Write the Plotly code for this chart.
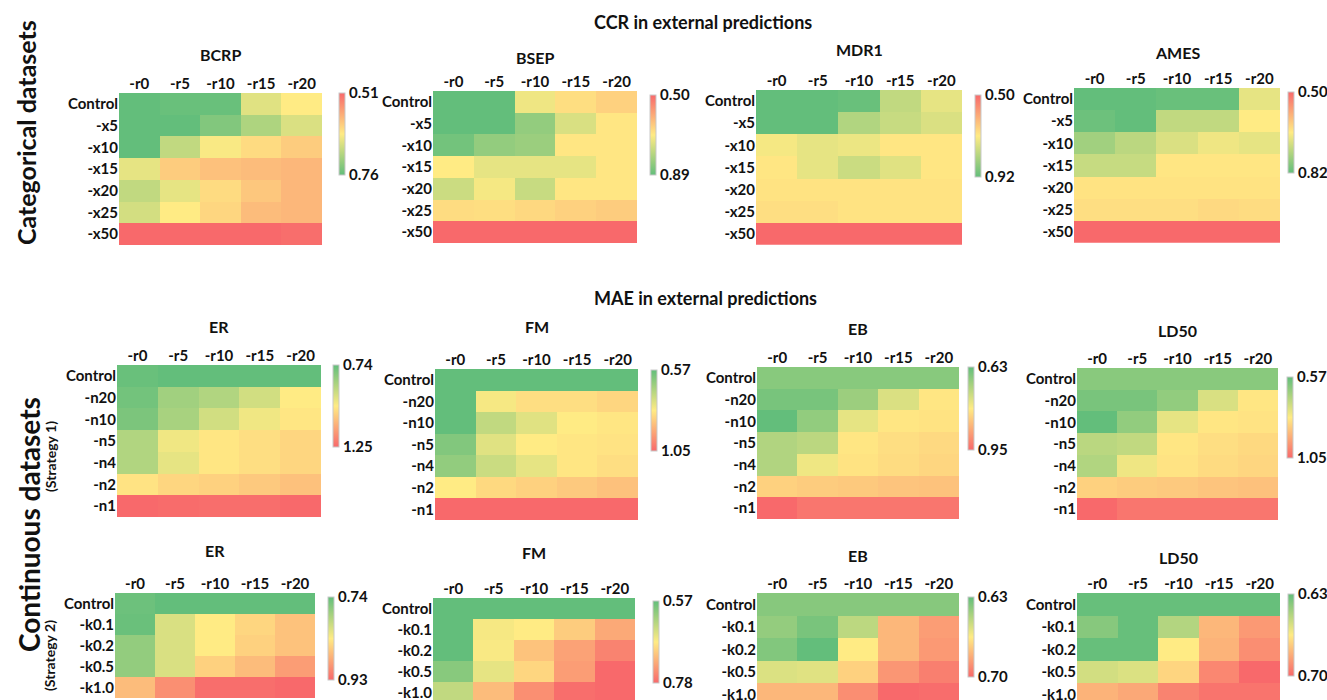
import numpy as np
import plotly.graph_objects as go

W, H = 1327, 700

cols = ["-r0", "-r5", "-r10", "-r15", "-r20"]
rows_cat = ["Control", "-x5", "-x10", "-x15", "-x20", "-x25", "-x50"]
rows_s1 = ["Control", "-n20", "-n10", "-n5", "-n4", "-n2", "-n1"]
rows_s2 = ["Control", "-k0.1", "-k0.2", "-k0.5", "-k1.0"]

# ---- CCR in external predictions (categorical datasets) ----
bcrp = [[0.760, 0.755, 0.755, 0.660, 0.635],
        [0.760, 0.760, 0.735, 0.700, 0.665],
        [0.760, 0.685, 0.640, 0.620, 0.605],
        [0.655, 0.605, 0.595, 0.590, 0.585],
        [0.685, 0.655, 0.620, 0.600, 0.585],
        [0.670, 0.635, 0.615, 0.590, 0.585],
        [0.510, 0.510, 0.510, 0.510, 0.515]]
bsep = [[0.890, 0.890, 0.715, 0.675, 0.656],
        [0.890, 0.890, 0.830, 0.742, 0.687],
        [0.870, 0.830, 0.820, 0.687, 0.687],
        [0.695, 0.726, 0.726, 0.726, 0.687],
        [0.760, 0.707, 0.765, 0.687, 0.687],
        [0.672, 0.675, 0.667, 0.656, 0.648],
        [0.500, 0.500, 0.500, 0.500, 0.500]]
mdr1 = [[0.920, 0.920, 0.912, 0.794, 0.744],
        [0.920, 0.920, 0.815, 0.786, 0.760],
        [0.723, 0.744, 0.735, 0.702, 0.702],
        [0.702, 0.744, 0.781, 0.752, 0.702],
        [0.697, 0.697, 0.697, 0.697, 0.697],
        [0.689, 0.689, 0.697, 0.697, 0.697],
        [0.500, 0.500, 0.500, 0.500, 0.500]]
ames = [[0.820, 0.820, 0.814, 0.814, 0.686],
        [0.810, 0.820, 0.724, 0.724, 0.660],
        [0.756, 0.730, 0.698, 0.676, 0.686],
        [0.718, 0.718, 0.654, 0.654, 0.654],
        [0.650, 0.650, 0.650, 0.650, 0.650],
        [0.644, 0.644, 0.644, 0.638, 0.641],
        [0.500, 0.500, 0.500, 0.500, 0.500]]

# ---- MAE in external predictions, Strategy 1 ----
er1 = [[0.750, 0.740, 0.740, 0.740, 0.740],
       [0.766, 0.842, 0.868, 0.919, 0.995],
       [0.781, 0.852, 0.919, 0.970, 1.005],
       [0.868, 0.970, 1.005, 1.020, 1.036],
       [0.868, 0.954, 1.005, 1.020, 1.036],
       [1.010, 1.036, 1.046, 1.061, 1.077],
       [1.250, 1.245, 1.240, 1.240, 1.250]]
fm1 = [[0.570, 0.570, 0.570, 0.570, 0.570],
       [0.570, 0.796, 0.834, 0.834, 0.848],
       [0.570, 0.714, 0.762, 0.810, 0.820],
       [0.618, 0.762, 0.810, 0.820, 0.824],
       [0.642, 0.728, 0.772, 0.820, 0.834],
       [0.810, 0.844, 0.858, 0.872, 0.887],
       [1.050, 1.050, 1.050, 1.050, 1.050]]
eb1 = [[0.668, 0.668, 0.668, 0.668, 0.668],
       [0.652, 0.652, 0.688, 0.752, 0.796],
       [0.630, 0.678, 0.764, 0.796, 0.800],
       [0.710, 0.720, 0.796, 0.806, 0.812],
       [0.710, 0.774, 0.800, 0.809, 0.816],
       [0.822, 0.828, 0.832, 0.838, 0.841],
       [0.950, 0.934, 0.934, 0.934, 0.934]]
ld1 = [[0.628, 0.628, 0.628, 0.628, 0.628],
       [0.604, 0.604, 0.642, 0.752, 0.820],
       [0.570, 0.642, 0.772, 0.820, 0.824],
       [0.704, 0.714, 0.820, 0.834, 0.844],
       [0.690, 0.786, 0.824, 0.839, 0.848],
       [0.858, 0.868, 0.872, 0.882, 0.887],
       [1.050, 1.026, 1.026, 1.026, 1.026]]

# ---- MAE in external predictions, Strategy 2 ----
er2 = [[0.746, 0.740, 0.740, 0.740, 0.740],
       [0.744, 0.812, 0.835, 0.850, 0.865],
       [0.769, 0.812, 0.835, 0.854, 0.865],
       [0.769, 0.812, 0.854, 0.869, 0.892],
       [0.869, 0.902, 0.926, 0.926, 0.930]]
fm2 = [[0.570, 0.570, 0.570, 0.570, 0.570],
       [0.570, 0.669, 0.675, 0.700, 0.728],
       [0.570, 0.671, 0.707, 0.734, 0.759],
       [0.595, 0.658, 0.692, 0.738, 0.780],
       [0.633, 0.713, 0.749, 0.776, 0.780]]
eb2 = [[0.638, 0.638, 0.638, 0.638, 0.638],
       [0.641, 0.635, 0.650, 0.679, 0.686],
       [0.637, 0.630, 0.665, 0.679, 0.687],
       [0.657, 0.658, 0.672, 0.688, 0.694],
       [0.679, 0.679, 0.690, 0.700, 0.699]]
ld2 = [[0.631, 0.631, 0.631, 0.631, 0.631],
       [0.638, 0.631, 0.648, 0.679, 0.687],
       [0.631, 0.631, 0.665, 0.680, 0.690],
       [0.655, 0.657, 0.671, 0.692, 0.700],
       [0.680, 0.683, 0.693, 0.697, 0.697]]

# colour-bar end labels (best value, worst value)
cbar_lo = [0.51, 0.50, 0.50, 0.50, 0.74, 0.57, 0.63, 0.57, 0.74, 0.57, 0.63, 0.63]
cbar_hi = [0.76, 0.89, 0.92, 0.82, 1.25, 1.05, 0.95, 1.05, 0.93, 0.78, 0.70, 0.70]

GREEN, YELLOW, RED = "#63BE7B", "#FFEB84", "#F8696B"
FONT = "Lato"
TXT = "#111111"

# panel layout (pixels): name, data, rows, metric, heatmap (left, right, top, rowheight), colorbar (x, top, bottom), title y
panels = [
    ("BCRP", bcrp, rows_cat, "CCR", (119, 322, 93, 21.7), (339, 93, 175), 55),
    ("BSEP", bsep, rows_cat, "CCR", (433, 637, 91, 21.7), (650, 95, 175), 58),
    ("MDR1", mdr1, rows_cat, "CCR", (756, 962, 90, 22.1), (975, 95, 177), 50),
    ("AMES", ames, rows_cat, "CCR", (1074, 1280, 88, 22.1), (1288, 92, 173), 52),
    ("ER", er1, rows_s1, "MAE", (117, 321, 365, 21.7), (333, 365, 447), 327),
    ("FM", fm1, rows_s1, "MAE", (435, 638, 369, 21.6), (651, 370, 451), 327),
    ("EB", eb1, rows_s1, "MAE", (757, 959, 367, 21.7), (968, 367, 450), 328),
    ("LD50", ld1, rows_s1, "MAE", (1077, 1278, 368, 21.7), (1287, 377, 458), 330),
    ("ER", er2, rows_s2, "MAE", (115, 315, 593, 21.0), (328, 597, 680), 550),
    ("FM", fm2, rows_s2, "MAE", (433, 635, 598, 21.0), (653, 601, 683), 552),
    ("EB", eb2, rows_s2, "MAE", (757, 959, 593, 22.5), (968, 597, 677), 555),
    ("LD50", ld2, rows_s2, "MAE", (1077, 1280, 593, 22.5), (1288, 594, 676), 557),
]

fig = go.Figure()
annotations = []
layout_axes = {}
tick_font = dict(family=FONT, size=15, color=TXT, weight="bold")

for i, (name, data, rows, metric, hm, cb, ty) in enumerate(panels):
    k = i + 1
    left, right, top, rh = hm
    vals = np.array(data, dtype=float)
    lo, hi = cbar_lo[i], cbar_hi[i]
    if metric == "CCR":
        # high CCR = green; low value shown at top of the colour bar
        cs = [[0, GREEN], [0.5, YELLOW], [1, RED]]
    else:
        cs = [[0, RED], [0.5, YELLOW], [1, GREEN]]
    zmin, zmax = -hi, -lo
    tv, tt = [-lo, -hi], [f"{lo:.2f}", f"{hi:.2f}"]
    cbx, cbt, cbb = cb
    fig.add_trace(go.Heatmap(
        z=-vals, x=cols, y=rows, customdata=vals,
        hovertemplate=metric + " %{customdata:.3f}<extra>" + name + "</extra>",
        colorscale=cs, zmin=zmin, zmax=zmax,
        xaxis=f"x{k}", yaxis=f"y{k}",
        colorbar=dict(
            x=cbx / W, xanchor="left", xpad=0,
            y=1 - (cbt + cbb) / 2 / H, yanchor="middle", ypad=0,
            len=cbb - cbt, lenmode="pixels", thickness=6,
            outlinewidth=1, outlinecolor="#c9c9c9",
            tickvals=tv, ticktext=tt, ticks="",
            tickfont=tick_font,
        ),
    ))
    n = len(rows)
    bottom = top + n * rh
    if bottom > H:
        visible = (H - top) / rh
        yrange = [-0.5 + visible, -0.5]
        ydom = [0, 1 - top / H]
    else:
        yrange = [n - 0.5, -0.5]
        ydom = [1 - bottom / H, 1 - top / H]
    layout_axes[f"xaxis{k}"] = dict(
        domain=[left / W, right / W], anchor=f"y{k}", side="top",
        range=[-0.5, 4.5], showgrid=False, zeroline=False, ticks="",
        showline=False, fixedrange=True, automargin=False,
        tickfont=tick_font,
    )
    layout_axes[f"yaxis{k}"] = dict(
        domain=ydom, anchor=f"x{k}", range=yrange, showgrid=False,
        zeroline=False, ticks="", showline=False, fixedrange=True,
        automargin=False, tickfont=tick_font,
    )
    annotations.append(dict(
        text=f"<b>{name}</b>", x=(left + right) / 2 / W, y=1 - ty / H,
        xref="paper", yref="paper", xanchor="center", yanchor="middle",
        showarrow=False, font=dict(family=FONT, size=16, color=TXT),
    ))

# headings
annotations += [
    dict(text="<b>CCR in external predictions</b>", x=703 / W, y=1 - 22 / H,
         font=dict(family=FONT, size=18, color=TXT)),
    dict(text="<b>MAE in external predictions</b>", x=705 / W, y=1 - 298 / H,
         font=dict(family=FONT, size=18, color=TXT)),
    dict(text="<b>Categorical datasets</b>", x=26 / W, y=1 - 133 / H, textangle=-90,
         font=dict(family=FONT, size=25, color=TXT)),
    dict(text="<b>Continuous datasets</b>", x=29 / W, y=1 - 525 / H, textangle=-90,
         font=dict(family=FONT, size=28, color=TXT)),
    dict(text="<b>(Strategy 1)</b>", x=51 / W, y=1 - 457 / H, textangle=-90,
         font=dict(family=FONT, size=14, color=TXT)),
    dict(text="<b>(Strategy 2)</b>", x=49 / W, y=1 - 656 / H, textangle=-90,
         font=dict(family=FONT, size=14, color=TXT)),
]
for a in annotations[-6:]:
    a.update(xref="paper", yref="paper", xanchor="center", yanchor="middle", showarrow=False)

fig.update_layout(
    width=W, height=H,
    margin=dict(l=0, r=0, t=0, b=0, autoexpand=False),
    paper_bgcolor="white", plot_bgcolor="white",
    annotations=annotations,
    font=dict(family=FONT, color=TXT),
    **layout_axes,
)

fig.write_html(
    "out.html",
    config={"displayModeBar": False},
    post_script="document.body.style.margin='0';document.body.style.overflow='hidden';",
)
